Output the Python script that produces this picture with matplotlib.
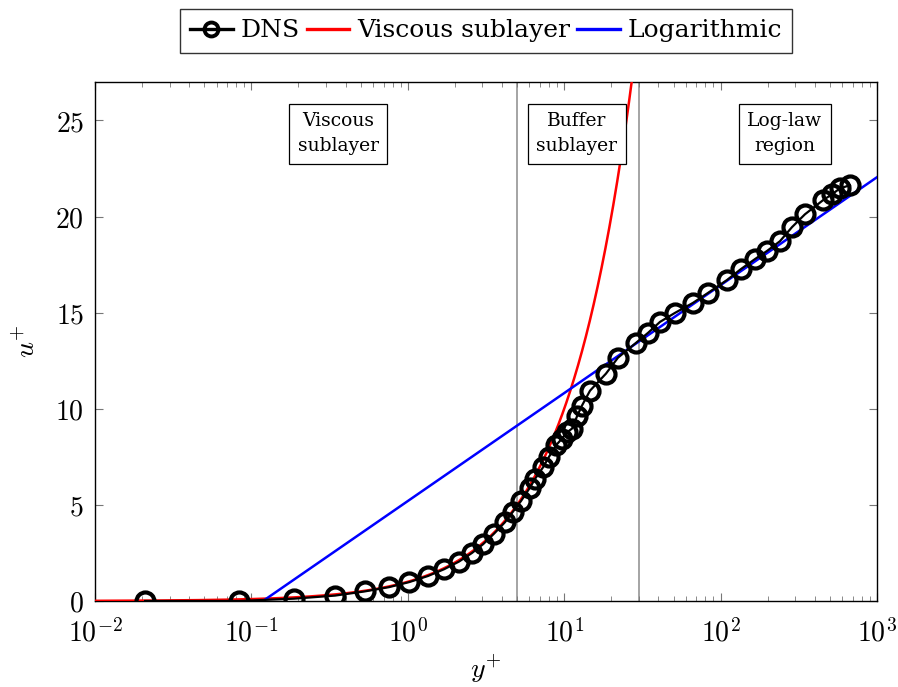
import numpy as np
import matplotlib
matplotlib.use("Agg")
import matplotlib.pyplot as plt
from matplotlib.ticker import LogLocator, FuncFormatter, NullFormatter

plt.rcParams["mathtext.fontset"] = "cm"

# DNS mean velocity profile (wall units)
dns_yplus = [0.0209, 0.0833, 0.187, 0.342, 0.532, 0.758, 1.018, 1.346, 1.704,
             2.125, 2.574, 3.026, 3.557, 4.183, 4.705, 5.294, 6.043, 6.506,
             7.318, 7.993, 8.866, 9.681, 10.42, 11.22, 12.07, 13.0, 14.62,
             18.50, 22.08, 28.78, 34.35, 40.97, 51.1, 66.6, 83.1, 109.9,
             135.0, 166.0, 198.0, 239.8, 286.1, 346.4, 451.5, 515.6, 580.0,
             672.0]
dns_uplus = [0.0, 0.0, 0.12, 0.28, 0.5, 0.72, 0.98, 1.3, 1.65,
             2.05, 2.5, 2.95, 3.5, 4.1, 4.65, 5.2, 5.9, 6.35,
             6.95, 7.5, 8.1, 8.45, 8.77, 8.97, 9.6, 10.17, 10.94,
             11.83, 12.66, 13.43, 13.95, 14.52, 14.99, 15.51, 16.03, 16.70,
             17.27, 17.79, 18.21, 18.72, 19.45, 20.12, 20.85, 21.16, 21.47,
             21.63]

# Law-of-the-wall constants
kappa = 0.41
B = 5.2
yplus_range = (1e-2, 1e3)

# Region boundaries and annotations
region_bounds = [5, 30]
region_labels = ["Viscous\nsublayer", "Buffer\nsublayer", "Log-law\nregion"]
region_label_x = [0.358, 12.07, 258.0]
region_label_y = 24.3

yticks = [0, 5, 10, 15, 20, 25]

fig = plt.figure(figsize=(8.98, 6.87), dpi=100)
ax = fig.add_axes([0.1058, 0.1252, 0.8708, 0.7554])

yp = np.logspace(np.log10(yplus_range[0]), np.log10(yplus_range[1]), 600)
u_visc = yp
u_log = np.log(yp) / kappa + B

for xb in region_bounds:
    ax.axvline(xb, color="#8c8c8c", lw=1.1, zorder=1)

ax.plot(dns_yplus, dns_uplus, color="black", lw=1.6, marker="o",
        markersize=13, markerfacecolor="none", markeredgewidth=3.0,
        label="DNS", zorder=4)
ax.plot(yp, u_visc, color="red", lw=1.8, label="Viscous sublayer", zorder=3)
ax.plot(yp, u_log, color="blue", lw=1.8, label="Logarithmic", zorder=3)

for lx, lab in zip(region_label_x, region_labels):
    ax.text(lx, region_label_y, lab, ha="center", va="center",
            family="DejaVu Serif", fontsize=13.5, linespacing=1.5,
            bbox=dict(boxstyle="square,pad=0.45", fc="white", ec="black", lw=0.9),
            zorder=5)

ax.set_xscale("log")
ax.set_xlim(*yplus_range)
ax.set_ylim(0, 27)
ax.set_yticks(yticks)
ax.yaxis.set_major_formatter(FuncFormatter(lambda v, p: r"$%d$" % v))
ax.xaxis.set_major_locator(LogLocator(base=10, numticks=10))
ax.xaxis.set_minor_locator(LogLocator(base=10, subs=np.arange(2, 10), numticks=20))
ax.xaxis.set_minor_formatter(NullFormatter())
ax.xaxis.set_major_formatter(FuncFormatter(lambda v, p: r"$10^{%d}$" % round(np.log10(v))))

ax.tick_params(which="both", direction="in", top=True, right=True,
               color="#777777", labelsize=20)
ax.tick_params(which="major", length=6, width=0.8)
ax.tick_params(which="minor", length=3.5, width=0.6)
ax.tick_params(axis="x", which="major", pad=13)
ax.tick_params(axis="y", which="major", pad=8)
for s in ax.spines.values():
    s.set_linewidth(1.0)

ax.set_xlabel(r"$y^{+}$", fontsize=20, labelpad=4)
ax.set_ylabel(r"$u^{+}$", fontsize=20, labelpad=10)

leg = ax.legend(loc="lower center", bbox_to_anchor=(0.5, 1.056), ncol=3,
                frameon=True, fancybox=False, edgecolor="black",
                prop={"family": "DejaVu Serif", "size": 18},
                handlelength=1.7, handletextpad=0.3, columnspacing=0.3,
                borderpad=0.42, borderaxespad=0.0)
leg.get_frame().set_linewidth(1.0)
for h in leg.legend_handles:
    h.set_linewidth(2.4)
leg.legend_handles[0].set_markersize(10)
leg.legend_handles[0].set_markeredgewidth(2.8)

fig.savefig("out.png", dpi=100)
